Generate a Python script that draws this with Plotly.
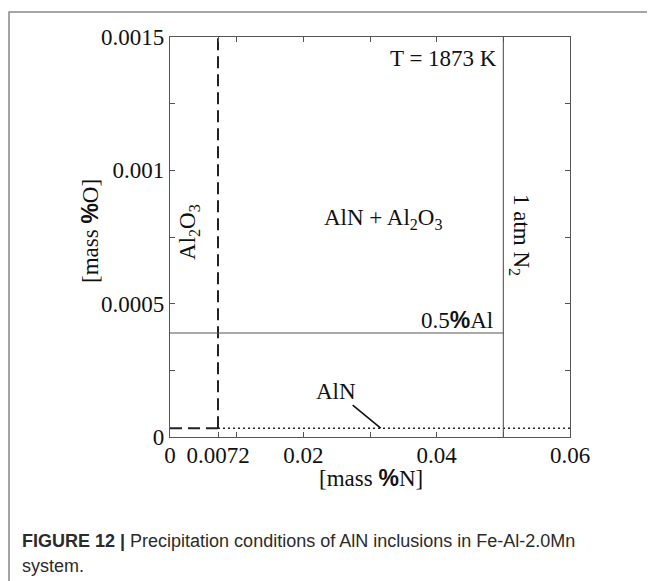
import plotly.graph_objects as go

# ---- data ----
al2o3_boundary_x = [0.0072, 0.0072]
al2o3_boundary_y = [0.000033, 0.0015]
al2o3_floor_x = [0.0, 0.0072]
al2o3_floor_y = [0.000033, 0.000033]
aln_boundary_x = [0.0072, 0.06]
aln_boundary_y = [0.000033, 0.000033]
al05_x = [0.0, 0.05]
al05_y = [0.00039, 0.00039]
n2_x = [0.05, 0.05]
n2_y = [0.0, 0.0015]

x_tickvals = [0, 0.0072, 0.02, 0.04, 0.06]
x_ticktext = ["0", "0.0072", "0.02", "0.04", "0.06"]
x_minor = [0.01, 0.03, 0.05]
y_tickvals = [0, 0.0005, 0.001, 0.0015]
y_ticktext = ["0", "0.0005", "0.001", "0.0015"]
y_minor = [0.00025, 0.00075, 0.00125]

SERIF = "Liberation Serif, Times New Roman, serif"
FS = 23

fig = go.Figure()
fig.add_trace(go.Scatter(x=al2o3_boundary_x, y=al2o3_boundary_y, mode="lines",
                         line=dict(color="#222", width=2, dash="12px,6px")))
fig.add_trace(go.Scatter(x=al2o3_floor_x, y=al2o3_floor_y, mode="lines",
                         line=dict(color="#222", width=2, dash="12px,6px")))
fig.add_trace(go.Scatter(x=aln_boundary_x, y=aln_boundary_y, mode="lines",
                         line=dict(color="#222", width=1.6, dash="2px,3px")))
fig.add_trace(go.Scatter(x=al05_x, y=al05_y, mode="lines",
                         line=dict(color="#555", width=1.1)))
fig.add_trace(go.Scatter(x=n2_x, y=n2_y, mode="lines",
                         line=dict(color="#555", width=1.1)))

axis_common = dict(showgrid=False, zeroline=False, showline=True, linecolor="#555",
                   linewidth=1.2, mirror="ticks", ticks="inside", ticklen=5,
                   tickcolor="#555", tickfont=dict(family=SERIF, size=FS, color="#111"))

fig.update_xaxes(range=[0, 0.06], tickmode="array", tickvals=x_tickvals, ticktext=x_ticktext,
                 minor=dict(tickmode="array", tickvals=x_minor, ticks="inside", ticklen=5,
                            tickcolor="#555"),
                 ticklabelstandoff=-3,
                 **axis_common)
fig.update_yaxes(range=[0, 0.0015], tickmode="array", tickvals=y_tickvals, ticktext=y_ticktext,
                 minor=dict(tickmode="array", tickvals=y_minor, ticks="inside", ticklen=5,
                            tickcolor="#555"),
                 **axis_common)

txt = dict(family=SERIF, size=FS, color="#111")
pct = '<span style="font-family:Liberation Sans, Arial"><b>%</b></span>'

fig.add_annotation(x=0.04935, y=0.001421, text="T = 1873 K", showarrow=False,
                   xanchor="right", yanchor="middle", font=txt)
fig.add_annotation(x=0.03195, y=0.0008175, text="AlN + Al<sub>2</sub>O<sub>3</sub>",
                   showarrow=False, xanchor="center", yanchor="middle", font=txt)
fig.add_annotation(x=0.00285, y=0.000769, text="Al<sub>2</sub>O<sub>3</sub>",
                   showarrow=False, textangle=-90, xanchor="center", yanchor="middle", font=txt)
fig.add_annotation(x=0.0525, y=0.0007575, text="1 atm N<sub>2</sub>",
                   showarrow=False, textangle=90, xanchor="center", yanchor="middle", font=txt)
fig.add_annotation(x=0.0487, y=0.000439, text="0.5" + pct + "Al", showarrow=False,
                   xanchor="right", yanchor="middle", font=txt)
fig.add_annotation(x=0.0316, y=0.000033, text="AlN", showarrow=True, arrowhead=0,
                   arrowwidth=1.6, arrowcolor="#111", ax=-45, ay=-37, font=txt)

# axis titles
fig.add_annotation(xref="paper", yref="paper", x=0.5025, y=-0.1025,
                   xanchor="center", yanchor="middle",
                   text="[mass " + pct + "N]", showarrow=False, font=txt)
fig.add_annotation(xref="paper", yref="paper", x=-0.2, y=0.515,
                   xanchor="center", yanchor="middle",
                   text="[mass " + pct + "O]", showarrow=False, textangle=-90, font=txt)

# caption
cap = dict(family="Liberation Sans, Arial", size=18, color="#2b2b2b")
fig.add_annotation(xref="paper", yref="paper", x=-0.375, y=-0.26, xanchor="left",
                   yanchor="middle",
                   text="<b>FIGURE 12 |</b> Precipitation conditions of AlN inclusions in Fe-Al-2.0Mn",
                   showarrow=False, font=cap)
fig.add_annotation(xref="paper", yref="paper", x=-0.375, y=-0.3225, xanchor="left",
                   yanchor="middle", text="system.", showarrow=False, font=cap)

# outer frame
fig.add_shape(type="rect", xref="paper", yref="paper", x0=-0.4025, y0=-1.0, x1=2.0,
              y1=1.0625, line=dict(color="#888", width=1.5), layer="below")

# page body adds an 8px offset; margins compensate so the plot lands at 170..570 / 37..437
fig.update_layout(width=655, height=581, showlegend=False,
                  margin=dict(l=162, r=93, t=29, b=152),
                  plot_bgcolor="white", paper_bgcolor="white")

fig.write_html("out.html")
